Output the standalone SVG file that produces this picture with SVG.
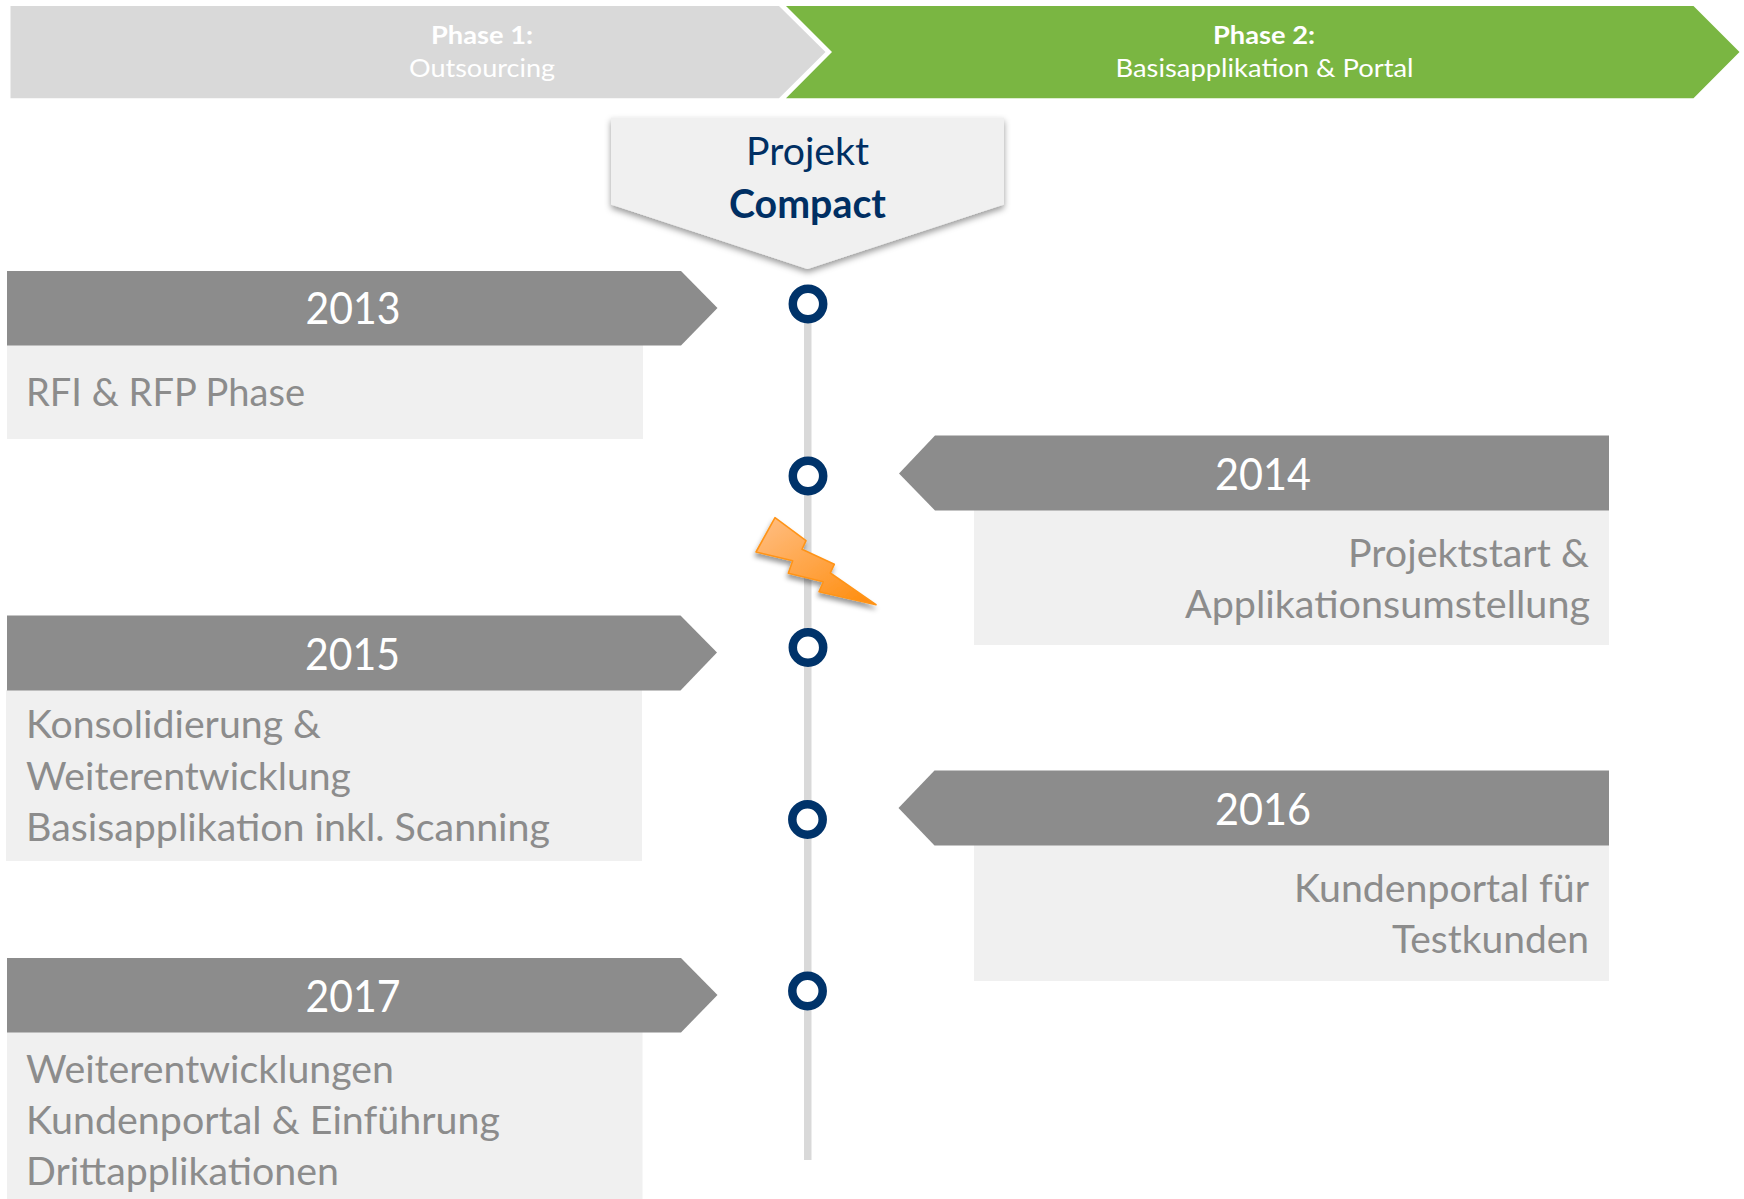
<svg xmlns="http://www.w3.org/2000/svg" width="1744" height="1199" viewBox="0 0 1744 1199">
<defs>
<style>
text{font-family:"Lato","Carlito","Open Sans",sans-serif}
.ph{font-size:25.5px;fill:#fff;text-anchor:middle}
.b{font-weight:700}
.yr{font-size:44px;fill:#fff;text-anchor:middle}
.yb{fill:#8c8c8c}
.tb{fill:#f0f0f0}
.t{font-size:38.5px;fill:#8c8c8c}
.r{text-anchor:end}
.pj{font-size:39.5px;fill:#002f63;text-anchor:middle}
.dot{fill:#fff;stroke:#00336a;stroke-width:8.5}
</style>
<linearGradient id="bolt" x1="0.1" y1="0.05" x2="0.9" y2="0.95">
<stop offset="0" stop-color="#ffbb7c"/><stop offset="1" stop-color="#ff8f12"/>
</linearGradient>
<filter id="sh" x="-15%" y="-15%" width="130%" height="130%">
<feDropShadow dx="0" dy="3.5" stdDeviation="3" flood-color="#000" flood-opacity="0.4"/>
</filter>
<filter id="shb" x="-15%" y="-15%" width="130%" height="130%">
<feDropShadow dx="-1" dy="4" stdDeviation="2.5" flood-color="#000" flood-opacity="0.4"/>
</filter>
</defs>
<rect width="1744" height="1199" fill="#fff"/>
<g id="connectors">
<rect x="804" y="304" width="7.5" height="856" fill="#d9d9d9"/>
</g>
<g id="phase1">
<polygon points="10.5,6 779,6 825.5,52 779,98.3 10.5,98.3" fill="#d9d9d9"/>
<text class="ph b" x="482" y="43.5" textLength="102" lengthAdjust="spacingAndGlyphs">Phase 1:</text>
<text class="ph" x="482" y="76.5" textLength="146" lengthAdjust="spacingAndGlyphs">Outsourcing</text>
</g>
<g id="phase2">
<polygon points="786,6 1693.5,6 1739.5,52 1693.5,98.3 786,98.3 832,52" fill="#7ab642"/>
<text class="ph b" x="1264" y="43.5" textLength="102" lengthAdjust="spacingAndGlyphs">Phase 2:</text>
<text class="ph" x="1264.5" y="76.5" textLength="298" lengthAdjust="spacingAndGlyphs">Basisapplikation &amp; Portal</text>
</g>
<g id="projekt">
<polygon points="611,117.5 1004,117.5 1004,204.5 807.5,269 611,204.5" fill="#f0f0f0" filter="url(#sh)"/>
<text class="pj" x="807.5" y="165" textLength="123" lengthAdjust="spacingAndGlyphs">Projekt</text>
<text class="pj b" x="807.5" y="218" textLength="157" lengthAdjust="spacingAndGlyphs">Compact</text>
</g>
<g id="y2013">
<rect class="tb" x="7" y="345" width="636" height="94"/>
<polygon class="yb" points="7,271 681,271 717.5,308 681,345.5 7,345.5"/>
<text class="yr" x="353" y="324" textLength="95" lengthAdjust="spacingAndGlyphs">2013</text>
<text class="t" x="26" y="405.5" textLength="279" lengthAdjust="spacingAndGlyphs">RFI &amp; RFP Phase</text>
</g>
<g id="y2014">
<rect class="tb" x="974" y="510" width="635" height="135"/>
<polygon class="yb" points="1609,435.5 935,435.5 899,473.5 935,510.5 1609,510.5"/>
<text class="yr" x="1263" y="490" textLength="96" lengthAdjust="spacingAndGlyphs">2014</text>
<text class="t r" x="1589" y="567" textLength="241" lengthAdjust="spacingAndGlyphs">Projektstart &amp;</text>
<text class="t r" x="1590" y="618" textLength="405" lengthAdjust="spacingAndGlyphs">Applikationsumstellung</text>
</g>
<g id="y2015">
<rect class="tb" x="6" y="690" width="636" height="171"/>
<polygon class="yb" points="7,615.5 680.5,615.5 717,652.5 680.5,690.5 7,690.5"/>
<text class="yr" x="352.5" y="669.5" textLength="95" lengthAdjust="spacingAndGlyphs">2015</text>
<text class="t" x="26" y="738" textLength="295" lengthAdjust="spacingAndGlyphs">Konsolidierung &amp;</text>
<text class="t" x="26" y="789.5" textLength="325" lengthAdjust="spacingAndGlyphs">Weiterentwicklung</text>
<text class="t" x="26" y="840.5" textLength="524" lengthAdjust="spacingAndGlyphs">Basisapplikation inkl. Scanning</text>
</g>
<g id="y2016">
<rect class="tb" x="974" y="845" width="635" height="136"/>
<polygon class="yb" points="1609,770.5 934.5,770.5 898.5,808 934.5,845.5 1609,845.5"/>
<text class="yr" x="1263" y="825" textLength="96" lengthAdjust="spacingAndGlyphs">2016</text>
<text class="t r" x="1589" y="901.5" textLength="295" lengthAdjust="spacingAndGlyphs">Kundenportal für</text>
<text class="t r" x="1589" y="953" textLength="197" lengthAdjust="spacingAndGlyphs">Testkunden</text>
</g>
<g id="y2017">
<rect class="tb" x="7" y="1032" width="635.5" height="167"/>
<polygon class="yb" points="7,958 681,958 717.5,995 681,1032.5 7,1032.5"/>
<text class="yr" x="353" y="1012" textLength="95" lengthAdjust="spacingAndGlyphs">2017</text>
<text class="t" x="26" y="1082.5" textLength="368" lengthAdjust="spacingAndGlyphs">Weiterentwicklungen</text>
<text class="t" x="26" y="1133.5" textLength="474" lengthAdjust="spacingAndGlyphs">Kundenportal &amp; Einführung</text>
<text class="t" x="26" y="1184.5" textLength="313" lengthAdjust="spacingAndGlyphs">Drittapplikationen</text>
</g>
<g id="dot2013"><circle class="dot" cx="808" cy="304" r="15.2"/></g>
<g id="dot2014"><circle class="dot" cx="808" cy="476" r="15.2"/></g>
<g id="dot2015"><circle class="dot" cx="808" cy="647.5" r="15.2"/></g>
<g id="dot2016"><circle class="dot" cx="807.5" cy="819.5" r="15.2"/></g>
<g id="dot2017"><circle class="dot" cx="807.5" cy="991" r="15.2"/></g>
<g id="bolt-shape">
<polygon points="775,517.7 806,540.7 802,549.3 834.3,564.3 830.3,573 876,604.7 819,591.7 823.3,581.7 788.3,573.3 792.7,560.7 756,552" fill="url(#bolt)" stroke="#ff9419" stroke-width="1.6" stroke-linejoin="round" filter="url(#shb)"/>
</g>
</svg>
